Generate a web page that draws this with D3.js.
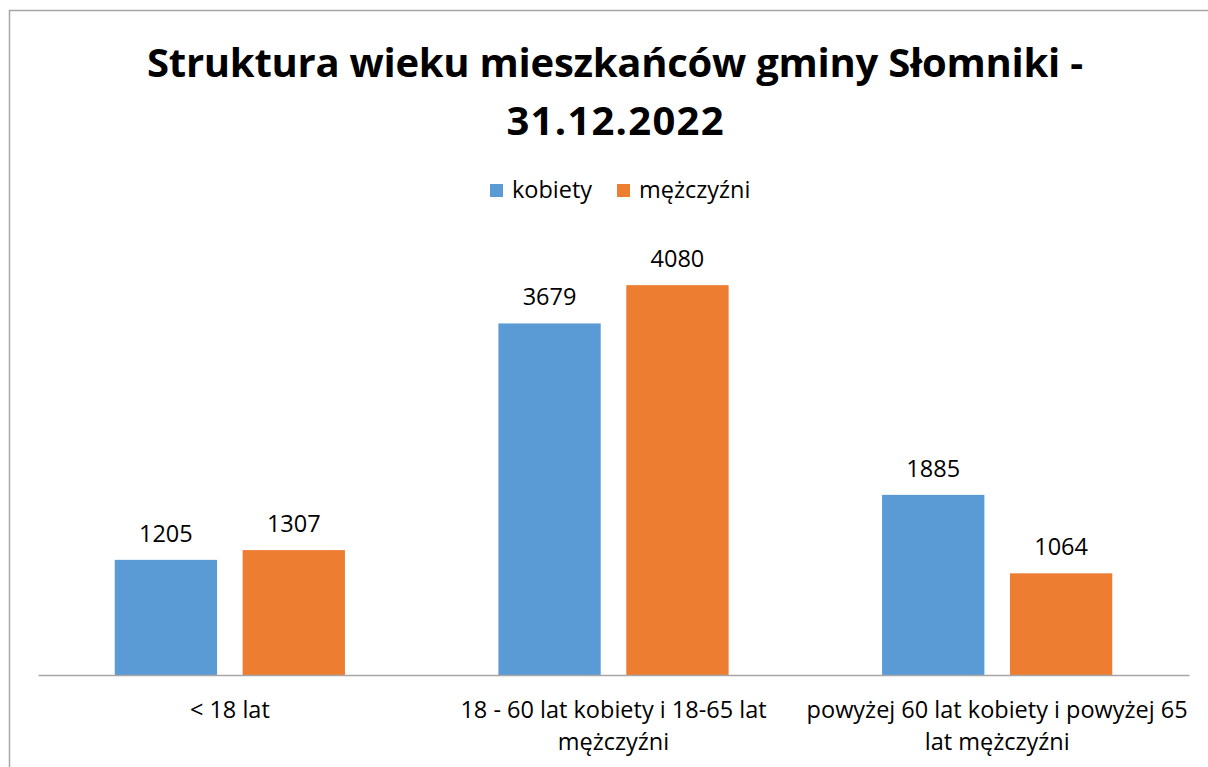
<!DOCTYPE html>
<html>
<head>
<meta charset="utf-8">
<script src="https://cdn.jsdelivr.net/npm/d3@7"></script>
<style>
  body { margin: 0; background: #fff; }
  text { font-family: "Open Sans", "Noto Sans", sans-serif; }
</style>
</head>
<body>
<script>
const categories = ["< 18 lat", "18 - 60 lat kobiety i 18-65 lat mężczyźni", "powyżej 60 lat kobiety i powyżej 65 lat mężczyźni"];
// tick labels as they are broken in the chart
const tickLines = [
    ["< 18 lat"],
    ["18 - 60 lat kobiety i 18-65 lat", "mężczyźni"],
    ["powyżej 60 lat kobiety i powyżej 65", "lat mężczyźni"],
];
const seriesNames = ["kobiety", "mężczyźni"];
const kobiety = [1205, 3679, 1885];
const mezczyzni = [1307, 4080, 1064];
const titleLines = ["Struktura wieku mieszkańców gminy Słomniki -", "31.12.2022"];

const colours = ["#5b9bd5", "#ed7d31"];

const width = 1208;
const height = 767;
const fontSize = 23.5;

const svg = d3
    .select("body")
    .append("svg")
    .attr("width", width)
    .attr("height", height);

// chart frame (runs off the right / bottom of the picture)
svg.append("rect")
    .attr("x", 9.5)
    .attr("y", 10.5)
    .attr("width", 1300)
    .attr("height", 900)
    .attr("fill", "none")
    .attr("stroke", "#a6a6a6")
    .attr("stroke-width", 1.5);

const margin = { top: 245, left: 38, right: 19, bottom: 92 };

const x = d3
    .scaleBand()
    .domain(categories)
    .range([margin.left, width - margin.right]);

const xInner = d3
    .scaleBand()
    .domain(seriesNames)
    .range([x.bandwidth() * 0.2, x.bandwidth() * 0.8])
    .paddingInner(0.2);

const y = d3
    .scaleLinear()
    .domain([0, 4500])
    .range([height - margin.bottom, margin.top]);

const data = categories.map((c, i) => ({
    cat: c,
    values: [
        { name: seriesNames[0], value: kobiety[i] },
        { name: seriesNames[1], value: mezczyzni[i] },
    ],
}));

// title
const titleWidths = [936, 217];
svg.append("g")
    .selectAll("text")
    .data(titleLines)
    .join("text")
    .attr("x", 615)
    .attr("y", (d, i) => 77 + i * 58)
    .attr("text-anchor", "middle")
    .attr("font-size", 40)
    .attr("font-weight", "bold")
    .attr("fill", "#000")
    .attr("textLength", (d, i) => titleWidths[i])
    .attr("lengthAdjust", "spacing")
    .text((d) => d);

// legend
const legend = svg.append("g").attr("transform", "translate(490,184)");
const legendX = [0, 127];
seriesNames.forEach((s, i) => {
    legend.append("rect")
        .attr("x", legendX[i])
        .attr("y", 0)
        .attr("width", 13)
        .attr("height", 13)
        .attr("fill", colours[i]);
    legend.append("text")
        .attr("x", legendX[i] + 22)
        .attr("y", 14)
        .attr("font-size", fontSize)
        .attr("fill", "#000")
        .text(s);
});

// bars
const groups = svg.append("g")
    .selectAll("g")
    .data(data)
    .join("g")
    .attr("transform", (d) => `translate(${x(d.cat)},0)`);

groups.selectAll("rect")
    .data((d) => d.values)
    .join("rect")
    .attr("x", (d) => xInner(d.name))
    .attr("y", (d) => y(d.value))
    .attr("width", xInner.bandwidth())
    .attr("height", (d) => y(0) - y(d.value))
    .attr("fill", (d, i) => colours[i]);

groups.selectAll("text")
    .data((d) => d.values)
    .join("text")
    .attr("x", (d) => xInner(d.name) + xInner.bandwidth() / 2)
    .attr("y", (d) => y(d.value) - 18)
    .attr("text-anchor", "middle")
    .attr("font-size", fontSize)
    .attr("fill", "#000")
    .text((d) => d.value);

// x axis
const xAxis = svg.append("g")
    .attr("transform", `translate(0,${y(0)})`)
    .call(d3.axisBottom(x).tickSize(0).tickFormat(""));
xAxis.select(".domain").attr("stroke", "#a6a6a6").attr("stroke-width", 1.5);

xAxis.selectAll(".tick").each(function (d, i) {
    const t = d3.select(this).append("text")
        .attr("fill", "#000")
        .attr("font-size", fontSize)
        .attr("text-anchor", "middle");
    tickLines[i].forEach((line, j) => {
        t.append("tspan")
            .attr("x", 0)
            .attr("y", 43 + j * 32)
            .text(line);
    });
});
</script>
</body>
</html>
